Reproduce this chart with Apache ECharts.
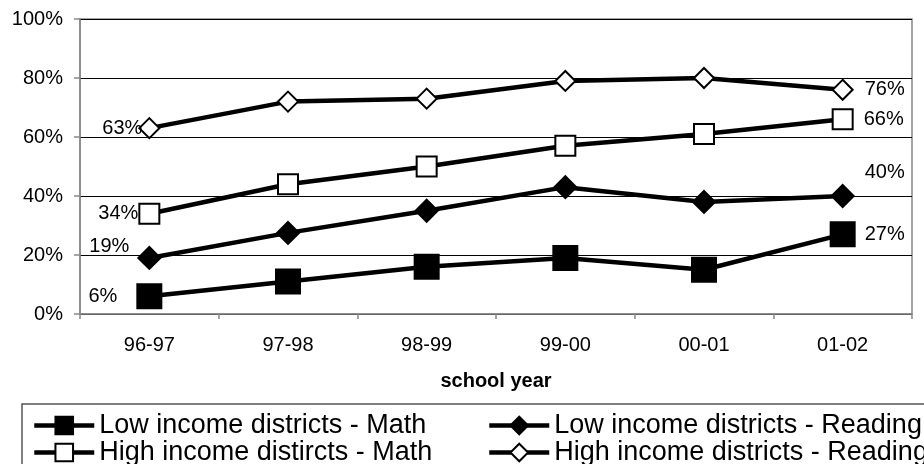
<!DOCTYPE html>
<html><head><meta charset="utf-8">
<script src="https://cdn.jsdelivr.net/npm/echarts@6/dist/echarts.min.js"></script>
<style>html,body{margin:0;padding:0;background:#fff}#c{width:924px;height:464px}</style>
</head><body><div id="c"></div>
<script>
const categories = ['96-97','97-98','98-99','99-00','00-01','01-02'];
const lowMath = [6, 11, 16, 19, 15, 27];
const lowReading = [19, 27.5, 35, 43, 38, 40];
const highMath = [34, 44, 50, 57, 61, 66];
const highReading = [63, 72, 73, 79, 80, 76];
const names = ['Low income districts - Math','Low income districts - Reading','High income distircts - Math','High income districts - Reading'];
const yTicks = [0, 20, 40, 60, 80, 100];

const FONT = 'Liberation Sans, Arial, sans-serif';
function withLabels(arr, first, last) {
  return arr.map((v, i) => {
    const o = { value: v };
    if (i === 0) o.label = Object.assign({ show: true, position: 'left' }, first);
    else if (i === arr.length - 1) o.label = Object.assign({ show: true, position: 'right' }, last);
    return o;
  });
}
function series(name, arr, symbol, size, filled, first, last) {
  return {
    name, type: 'line', data: withLabels(arr, first, last),
    symbol, symbolSize: size, showAllSymbol: true,
    lineStyle: { color: '#000', width: 4.5 },
    itemStyle: { color: filled ? '#000' : '#fff', borderColor: '#000', borderWidth: 2 },
    label: { show: false, color: '#000', fontSize: 20, fontFamily: FONT, formatter: p => p.value + '%' },
    emphasis: { disabled: true }, animation: false
  };
}
const legendCommon = {
  orient: 'vertical', top: 412, height: 200, width: 440, itemWidth: 60, itemHeight: 22, itemGap: 0, padding: 0, selectedMode: false,
  textStyle: { color: '#000', fontSize: 27, fontFamily: FONT, lineHeight: 25 },
  lineStyle: { width: 4.5 }
};
const chart = echarts.init(document.getElementById('c'));
chart.setOption({
  animation: false,
  grid: { left: 80, right: 12, top: 19, bottom: 150, show: true, borderColor: '#888', borderWidth: 1.5 },
  xAxis: {
    type: 'category', data: categories, boundaryGap: true,
    axisLine: { lineStyle: { color: '#888', width: 1.5 } },
    axisTick: { show: true, length: 5, lineStyle: { color: '#888', width: 1.5 } },
    axisLabel: { color: '#000', fontSize: 20, fontFamily: FONT, margin: 21 },
    name: 'school year', nameLocation: 'middle', nameGap: 57,
    nameTextStyle: { color: '#000', fontSize: 20, fontWeight: 'bold', fontFamily: FONT }
  },
  yAxis: {
    type: 'value', min: yTicks[0], max: yTicks[yTicks.length - 1], interval: 20,
    axisLine: { show: true, lineStyle: { color: '#888', width: 1.5 } },
    axisTick: { show: true, length: 6, lineStyle: { color: '#888', width: 1.5 } },
    axisLabel: { color: '#000', fontSize: 20, fontFamily: FONT, formatter: '{value}%', margin: 17 },
    splitLine: { show: true, lineStyle: { color: '#000', width: 1 } }
  },
  legend: [
    Object.assign({ data: [names[0], names[2]], left: 32 }, legendCommon),
    Object.assign({ data: [names[1], names[3]], left: 487 }, legendCommon)
  ],
  graphic: [{ type: 'rect', shape: { x: 22, y: 404, width: 1000, height: 100 }, style: { fill: 'none', stroke: '#555', lineWidth: 1.5 }, silent: true }],
  series: [
    series(names[0], lowMath, 'rect', 24, true, { distance: 19 }, { distance: 9 }),
    series(names[1], lowReading, 'diamond', 22, true, { distance: 8, offset: [0, -11] }, { distance: 10, offset: [0, -24] }),
    series(names[2], highMath, 'rect', 20, false, { distance: 0 }, { distance: 10 }),
    series(names[3], highReading, 'diamond', 20, false, { distance: -4 }, { distance: 11 })
  ]
});
</script></body></html>
